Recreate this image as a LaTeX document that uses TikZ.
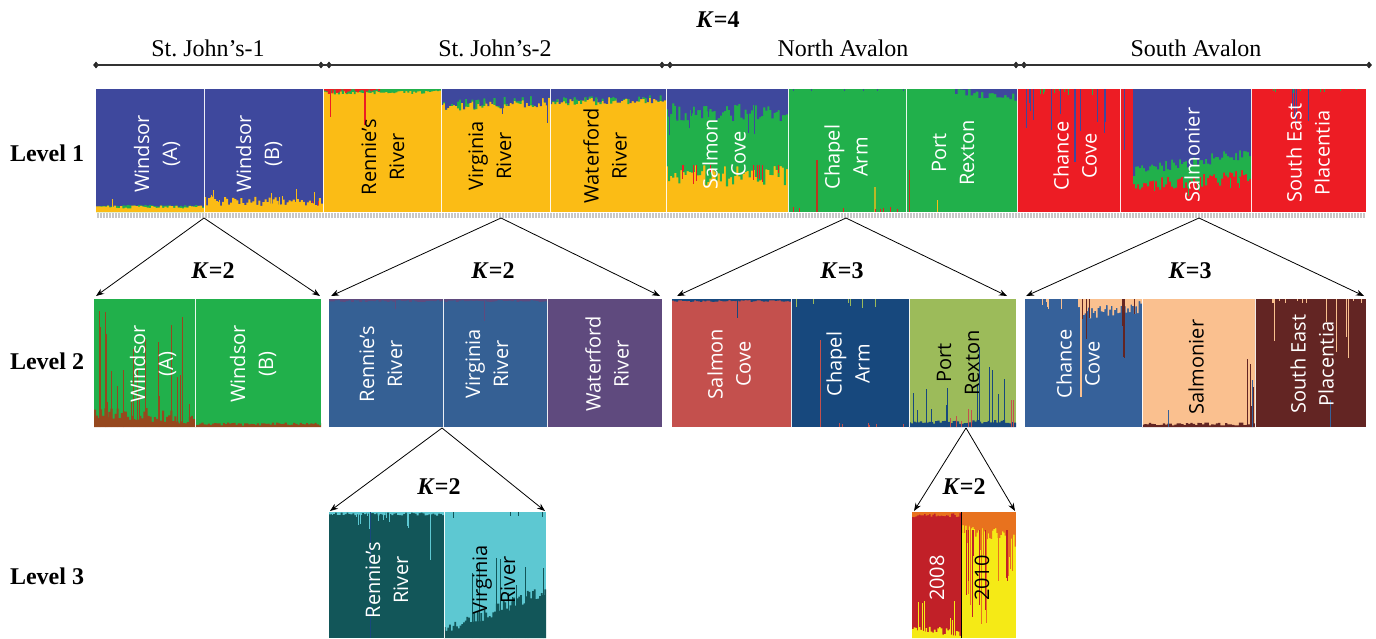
\documentclass[tikz,border=0pt]{standalone}
\usepackage{fontspec}
\setmainfont{Liberation Serif}
\newfontfamily\popfont{Open Sans}
\usetikzlibrary{arrows.meta,shapes.geometric}

\definecolor{lBlue}{RGB}{62,72,157}
\definecolor{lYellow}{RGB}{251,188,21}
\definecolor{lGreen}{RGB}{33,176,75}
\definecolor{lRed}{RGB}{237,28,36}
\definecolor{mBrown}{RGB}{150,72,30}
\definecolor{mSteel}{RGB}{53,96,148}
\definecolor{mPurple}{RGB}{95,74,126}
\definecolor{mSalmon}{RGB}{196,80,77}
\definecolor{mNavy}{RGB}{23,72,125}
\definecolor{mOlive}{RGB}{156,187,90}
\definecolor{mBlue}{RGB}{54,97,154}
\definecolor{mPeach}{RGB}{250,192,143}
\definecolor{mMaroon}{RGB}{99,37,35}
\definecolor{sTeal}{RGB}{18,86,89}
\definecolor{sCyan}{RGB}{93,200,210}
\definecolor{sRed}{RGB}{193,32,40}
\definecolor{sYellow}{RGB}{245,234,22}
\definecolor{sOrange}{RGB}{232,114,30}

% colour, x0, x1, base, edge at x0, edge at x1, jitter, samples
\newcommand{\jagband}[8]{%
	\fill[#1] plot[const plot,samples=#8,domain=#2:#3] (\x,{#5+(#6-#5)*(\x-#2)/(#3-#2)+#7*(rnd-0.5)}) -- (#3,#4) -- (#2,#4) -- cycle;}
% colour, x0, x1, base, shortest, longest, count
\newcommand{\jagspikes}[7]{%
	\foreach \k in {1,...,#7}{%
		\pgfmathsetmacro{\spx}{#2+(#3-#2)*rnd}%
		\pgfmathsetmacro{\spy}{#5+(#6-#5)*rnd}%
		\draw[#1,line width=1pt] (\spx,#4) -- (\spx,\spy);}}

\begin{document}
\begin{tikzpicture}[x=1pt,y=-1pt,
	poplabel/.style={rotate=90,align=center,text=white,inner sep=0pt,font=\popfont\fontsize{20}{28}\selectfont},
	darklabel/.style={poplabel,text=black},
	levellabel/.style={anchor=base,font=\bfseries\fontsize{24}{28}\selectfont},
	regionlabel/.style={anchor=base,font=\fontsize{24}{28}\selectfont},
	klabel/.style={anchor=base,font=\bfseries\fontsize{24}{28}\selectfont},
	endmark/.style={diamond,fill=black!85,inner sep=0pt,minimum width=6pt,minimum height=7pt},
	splitarrow/.style={-{Stealth[length=8pt,width=6pt]},line width=0.8pt},
	divider/.style={white,line width=0.8pt,opacity=0.9}]
	\useasboundingbox (0,0) rectangle (1376,638);
	\pgfmathsetseed{11}

	% top scale
	\node[klabel] (k4) at (718,27) {\textit{K}=4};
	\foreach \n/\xm in {d1/96,d2/321,d3/329,d4/662,d5/670,d6/1016,d7/1024,d8/1369}
		\node[endmark] (\n) at (\xm,65) {};
	\draw[line width=1.2pt,black!80] (d1.center) -- (d8.center);
	\node[regionlabel] (regSJ1) at (208,56) {St.\ John’s-1};
	\node[regionlabel] (regSJ2) at (495,56) {St.\ John’s-2};
	\node[regionlabel] (regNA) at (843,56) {North Avalon};
	\node[regionlabel] (regSA) at (1196,56) {South Avalon};

	\node[levellabel] (lev1) at (47,161) {Level 1};
	\node[levellabel] (lev2) at (47,369) {Level 2};
	\node[levellabel] (lev3) at (47,584) {Level 3};

	% level 1
	\begin{scope}
		\clip (96,89) rectangle (1366,212);
		\fill[lBlue] (96,89) rectangle (323,212);
		\fill[lYellow] (323,89) rectangle (788,212);
		\fill[lGreen] (788,89) rectangle (1017,212);
		\fill[lRed] (1017,89) rectangle (1366,212);
		\jagband{lGreen}{96}{204}{212}{206}{206}{2}{50}
		\jagband{lYellow}{96}{204}{212}{207}{207}{3}{50}
		\draw[lYellow,line width=1pt] (112,212) -- (112,199);
		\jagspikes{lRed}{206}{322}{212}{198}{204}{8}
		\jagband{lYellow}{204}{323}{212}{201}{203}{10}{60}
		\jagspikes{lYellow}{206}{322}{212}{186}{200}{10}
		\jagband{lGreen}{324}{441}{89}{93}{92}{3}{60}
		\jagband{lRed}{324}{380}{89}{92}{90}{4}{30}
		\draw[lRed,line width=1.2pt] (365,89) -- (365,125);
		\draw[lRed,line width=1pt] (330,89) -- (330,117);
		\jagband{lGreen}{441}{550}{89}{106}{102}{10}{55}
		\jagband{lBlue}{441}{550}{89}{105}{101}{12}{55}
		\draw[lBlue,line width=1pt] (547,89) -- (547,123);
		\draw[lBlue,line width=1pt] (502,89) -- (502,114);
		\jagband{lGreen}{550}{666}{89}{102}{100}{8}{55}
		\jagband{lBlue}{550}{666}{89}{101}{99}{8}{55}
		\jagband{lGreen}{666}{788}{89}{176}{176}{22}{60}
		\jagspikes{lRed}{668}{786}{165}{168}{188}{10}
		\jagband{lBlue}{666}{788}{89}{112}{112}{18}{60}
		\jagspikes{lBlue}{668}{786}{89}{115}{135}{8}
		\draw[mBrown!60!lRed,line width=1.5pt] (817,160) -- (817,212);
		\draw[lYellow!70!lGreen,line width=1.5pt] (875,187) -- (875,212);
		\jagspikes{lRed}{790}{904}{212}{207}{210}{8}
		\jagspikes{lBlue}{790}{904}{89}{90}{92}{6}
		\jagband{lBlue}{955}{1017}{89}{92}{97}{8}{25}
		\draw[mBrown!60!lRed,line width=1pt] (909,170) -- (909,212);
		\draw[lYellow,line width=1pt] (937,200) -- (937,212);
		\jagspikes{lBlue}{1022}{1118}{89}{95}{135}{12}
		\draw[lBlue,line width=1.5pt] (1075,89) -- (1075,162);
		\jagspikes{lGreen}{1022}{1118}{89}{91}{96}{8}
		\jagband{lGreen}{1133}{1251}{89}{186}{176}{14}{60}
		\jagband{lBlue}{1133}{1251}{89}{170}{152}{12}{60}
		\jagspikes{lGreen}{1135}{1249}{178}{185}{198}{8}
		\draw[lBlue,line width=1pt] (1124,89) -- (1124,150);
		\jagspikes{lBlue}{1288}{1312}{89}{105}{125}{5}
		\jagspikes{lGreen}{1255}{1364}{89}{90}{93}{8}
		\foreach \xd in {204,323.5,441,550,666,788,906,1017,1120,1251}
			\draw[divider] (\xd,89) -- (\xd,212);
	\end{scope}
	\fill[black!22] (96,213) rectangle (1366,218);
	\draw[white,line width=5pt,dash pattern=on 0.8pt off 2.2pt] (96,215.5) -- (1366,215.5);

	\node[poplabel] (l1wa) at (157,154) {Windsor\\(A)};
	\node[poplabel] (l1wb) at (259,154) {Windsor\\(B)};
	\node[darklabel] (l1rr) at (383,157) {Rennie’s\\River};
	\node[darklabel] (l1vr) at (490,156) {Virginia\\River};
	\node[darklabel] (l1wr) at (605,156) {Waterford\\River};
	\node[poplabel] (l1sc) at (724,154) {Salmon\\Cove};
	\node[poplabel] (l1ca) at (846,157) {Chapel\\Arm};
	\node[poplabel] (l1pr) at (953,153) {Port\\Rexton};
	\node[poplabel] (l1cc) at (1075,156) {Chance\\Cove};
	\node[poplabel] (l1sm) at (1192,155) {Salmonier};
	\node[poplabel] (l1sp) at (1308,153) {South East\\Placentia};

	% level 1 to level 2
	\coordinate (ap1) at (204,218);
	\coordinate (ap2) at (501,218);
	\coordinate (ap3) at (846,218);
	\coordinate (ap4) at (1199,218);
	\coordinate (tp1l) at (96,296);
	\coordinate (tp1r) at (320,296);
	\coordinate (tp2l) at (331,296);
	\coordinate (tp2r) at (660,296);
	\coordinate (tp3l) at (677,296);
	\coordinate (tp3r) at (1007,296);
	\coordinate (tp4l) at (1026,296);
	\coordinate (tp4r) at (1364,296);
	\foreach \a in {1,2,3,4}{
		\draw[splitarrow] (ap\a) -- (tp\a l);
		\draw[splitarrow] (ap\a) -- (tp\a r);}
	\node[klabel] (k2a) at (213,278) {\textit{K}=2};
	\node[klabel] (k2b) at (493,278) {\textit{K}=2};
	\node[klabel] (k3a) at (842,278) {\textit{K}=3};
	\node[klabel] (k3b) at (1190,278) {\textit{K}=3};

	% level 2
	\begin{scope}
		\clip (94,299) rectangle (321,427) (329,299) rectangle (662,427) (672,299) rectangle (1016,427) (1025,299) rectangle (1366,427);
		\fill[lGreen] (94,299) rectangle (321,427);
		\fill[mSteel] (329,299) rectangle (547,427);
		\fill[mPurple] (547,299) rectangle (662,427);
		\fill[mSalmon] (672,299) rectangle (791,427);
		\fill[mNavy] (791,299) rectangle (909,427);
		\fill[mOlive] (909,299) rectangle (1016,427);
		\fill[mBlue] (1025,299) rectangle (1142,427);
		\fill[mPeach] (1142,299) rectangle (1255,427);
		\fill[mMaroon] (1255,299) rectangle (1366,427);
		\jagband{mBrown}{94}{195}{427}{412}{418}{14}{50}
		\jagspikes{mBrown}{96}{193}{427}{305}{410}{24}
		\jagband{mBrown}{195}{321}{427}{424}{424}{3}{60}
		\jagband{mPurple}{329}{547}{299}{301}{301}{2}{80}
		\draw[mPurple,line width=1pt] (484,299) -- (484,321);
		\draw[mPurple,line width=0.8pt] (395,299) -- (395,309);
		\jagband{mNavy}{672}{791}{299}{301}{301}{2}{60}
		\draw[mNavy,line width=1pt] (737,299) -- (737,318);
		\jagspikes{mOlive}{795}{905}{299}{302}{312}{7}
		\draw[mSalmon,line width=0.8pt] (820,340) -- (820,427);
		\jagspikes{mSalmon}{795}{905}{427}{422}{425}{6}
		\jagband{mNavy}{909}{1016}{427}{422}{422}{4}{50}
		\jagspikes{mNavy}{912}{1014}{427}{345}{418}{14}
		\jagspikes{mSalmon}{912}{1014}{427}{395}{422}{6}
		\draw[mSalmon,line width=1pt] (1011,400) -- (1011,427);
		\jagband{mPeach}{1078}{1142}{299}{314}{306}{14}{40}
		\jagspikes{mMaroon}{1082}{1140}{299}{305}{360}{8}
		\jagspikes{mPeach}{1028}{1076}{299}{301}{310}{6}
		\draw[mPeach,line width=1.5pt] (1081,299) -- (1081,397);
		\draw[mMaroon,line width=1pt] (1124,299) -- (1124,355);
		\jagband{mMaroon}{1142}{1255}{427}{424}{424}{3}{50}
		\draw[mBlue,line width=1pt] (1168,410) -- (1168,427);
		\jagspikes{mMaroon}{1246}{1254}{427}{340}{410}{4}
		\draw[mBlue,line width=1pt] (1252,380) -- (1252,427);
		\jagspikes{mPeach}{1258}{1364}{299}{305}{380}{5}
		\jagspikes{mPeach}{1258}{1364}{299}{300}{304}{10}
		\draw[mBlue,line width=1pt] (1330,400) -- (1330,427);
		\foreach \xd in {195,443,547,791,909,1142,1255}
			\draw[divider] (\xd,299) -- (\xd,427);
	\end{scope}

	\node[poplabel] (l2wa) at (153,364) {Windsor\\(A)};
	\node[poplabel] (l2wb) at (253,364) {Windsor\\(B)};
	\node[poplabel] (l2rr) at (381,364) {Rennie’s\\River};
	\node[poplabel] (l2vr) at (487,364) {Virginia\\River};
	\node[poplabel] (l2wr) at (607,364) {Waterford\\River};
	\node[poplabel] (l2sc) at (729,364) {Salmon\\Cove};
	\node[poplabel] (l2ca) at (848,364) {Chapel\\Arm};
	\node[darklabel] (l2pr) at (958,363) {Port\\Rexton};
	\node[poplabel] (l2cc) at (1078,364) {Chance\\Cove};
	\node[darklabel] (l2sm) at (1196,367) {Salmonier};
	\node[poplabel] (l2sp) at (1312,364) {South East\\Placentia};

	% level 2 to level 3
	\coordinate (ap5) at (442,428);
	\coordinate (ap6) at (966,428);
	\coordinate (tp5l) at (330,511);
	\coordinate (tp5r) at (545,511);
	\coordinate (tp6l) at (914,511);
	\coordinate (tp6r) at (1015,511);
	\foreach \a in {5,6}{
		\draw[splitarrow] (ap\a) -- (tp\a l);
		\draw[splitarrow] (ap\a) -- (tp\a r);}
	\node[klabel] (k2c) at (439,494) {\textit{K}=2};
	\node[klabel] (k2d) at (964,494) {\textit{K}=2};

	% level 3
	\begin{scope}
		\clip (329,512) rectangle (546,638) (912,512) rectangle (1016,638);
		\fill[sTeal] (329,512) rectangle (444,638);
		\fill[sCyan] (444,512) rectangle (546,638);
		\fill[sRed] (912,512) rectangle (961,638);
		\fill[sYellow] (961,512) rectangle (1016,638);
		\jagspikes{sCyan}{331}{442}{512}{514}{530}{14}
		\jagband{sCyan}{329}{444}{512}{514}{514}{3}{60}
		\draw[sCyan,line width=0.8pt] (430,512) -- (430,560);
		\draw[mNavy,line width=0.8pt] (370,512) -- (370,638);
		\jagband{sTeal}{444}{546}{638}{630}{590}{14}{60}
		\jagspikes{sTeal}{470}{546}{638}{545}{600}{12}
		\jagspikes{sTeal}{446}{544}{512}{514}{520}{4}
		\jagband{sOrange}{912}{961}{512}{516}{515}{4}{30}
		\jagband{sYellow}{912}{961}{638}{630}{632}{8}{30}
		\jagspikes{sYellow}{914}{959}{638}{600}{625}{6}
		\jagband{sOrange}{961}{1016}{512}{526}{540}{14}{40}
		\jagspikes{sOrange}{963}{1015}{512}{540}{630}{16}
		\jagspikes{sRed}{963}{1015}{530}{540}{620}{8}
		\draw[black,line width=0.8pt] (961,512) -- (961,638);
		\draw[divider] (444,512) -- (444,638);
	\end{scope}

	\node[poplabel] (l3rr) at (387,580) {Rennie’s\\River};
	\node[darklabel] (l3vr) at (494,580) {Virginia\\River};
	\node[poplabel] (l3a) at (937,578) {2008};
	\node[darklabel] (l3b) at (982,578) {2010};
\end{tikzpicture}
\end{document}
